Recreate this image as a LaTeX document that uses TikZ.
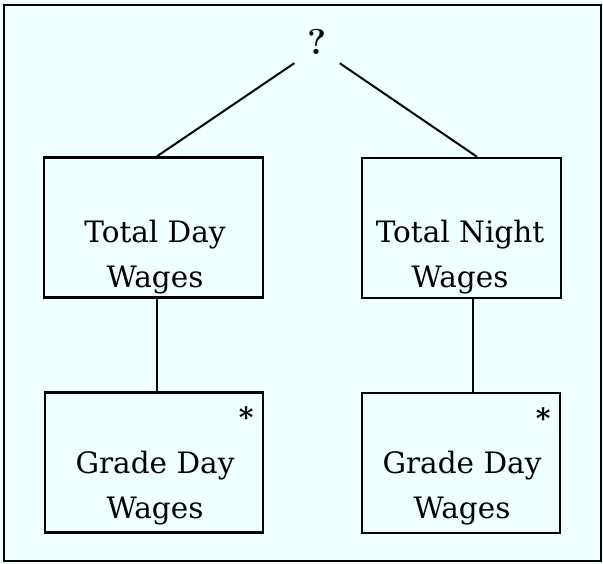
\documentclass[tikz,border=0pt]{standalone}
\usepackage{fontspec}
\usepackage{tikz}
\usetikzlibrary{positioning,calc}
\newfontfamily\boxfont{DejaVu Serif}
\definecolor{paper}{RGB}{240,255,255}
\tikzset{
  wbox/.style={draw, line width=2.4pt, minimum width=#1, minimum height=140pt, inner sep=0pt},
  wtext/.style={align=center, font=\boxfont\fontsize{29.5}{45}\selectfont, anchor=base},
  qmark/.style={minimum width=45pt, minimum height=42pt, inner sep=0pt, font=\fontsize{36}{40}\selectfont\bfseries},
  starmark/.style={inner sep=0pt, font=\boxfont\bfseries\fontsize{28}{30}\selectfont},
  link/.style={line width=2pt},
}

\begin{document}
\begin{tikzpicture}[x=1pt,y=-1pt]
	\fill[paper] (0,0) rectangle (603,563);
	\draw[line width=2pt] (4,5) rectangle (601,561);
	
	\node[qmark] (q) at (317,42) {?};
	\node[wbox=219pt] (tday) at (153.5,227.5) {};
	\node[wbox=199pt] (tnight) at (461.5,228) {};
	\node[wbox=218pt] (gday1) at (154,462.5) {};
	\node[wbox=198pt] (gday2) at (461,463) {};
	
	\node[wtext] (tdaytxt) at ([xshift=1.5pt,yshift=-59.5pt]tday.center) {Total Day\\Wages};
	\node[wtext] (tnighttxt) at ([xshift=-1.5pt,yshift=-59pt]tnight.center) {Total Night\\Wages};
	\node[wtext] (gday1txt) at ([xshift=1pt,yshift=-55.5pt]gday1.center) {Grade Day\\Wages};
	\node[wtext] (gday2txt) at ([xshift=1pt,yshift=-55pt]gday2.center) {Grade Day\\Wages};
	\node[starmark] (star1) at ([xshift=-18pt,yshift=-26pt]gday1.north east) {*};
	\node[starmark] (star2) at ([xshift=-18pt,yshift=-26pt]gday2.north east) {*};
	
	\draw[link] (q.south west)--([xshift=3.5pt]tday.north);
	\draw[link] (q.south east)--([xshift=15.5pt]tnight.north);
	\draw[link] ([xshift=3.5pt]tday.south)--([xshift=3.5pt]tday.south |- gday1.north);
	\draw[link] ([xshift=11.5pt]tnight.south)--([xshift=11.5pt]tnight.south |- gday2.north);
\end{tikzpicture}
\end{document}
